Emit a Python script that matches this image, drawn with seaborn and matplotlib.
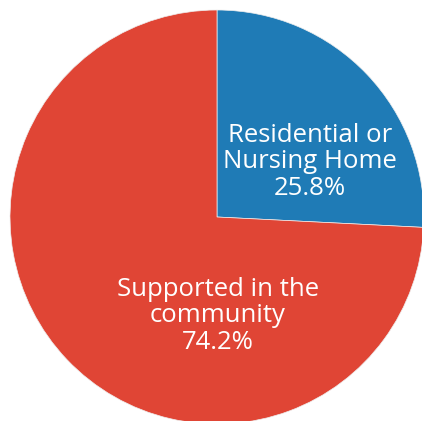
import matplotlib
matplotlib.use("Agg")
import matplotlib.pyplot as plt
import seaborn as sns

categories = ["Residential or\nNursing Home", "Supported in the\ncommunity"]
values = [25.8, 74.2]
colors = ["#1f7bb6", "#e04535"]

sns.set_style("white")
plt.rcParams['font.family'] = ['Open Sans', 'DejaVu Sans']

fig = plt.figure(figsize=(4.22, 4.21), dpi=100)
ax = fig.add_axes([0, 0, 1, 1])

wedges, _ = ax.pie(values, colors=colors, startangle=90, counterclock=False,
                   center=(217, 204), radius=207, frame=True,
                   wedgeprops=dict(linewidth=0.5, edgecolor='#eeeeee'))
ax.set_xlim(0, 422)
ax.set_ylim(0, 421)
ax.set_aspect('equal')
ax.axis('off')

label_pos = [(310, 421 - 162), (218, 421 - 316)]
for cat, val, (x, y) in zip(categories, values, label_pos):
    ax.text(x, y, f"{cat}\n{val:.1f}%", ha='center', va='center', color='white',
            fontsize=18.5, linespacing=1.07)

fig.savefig("out.png", dpi=100)
